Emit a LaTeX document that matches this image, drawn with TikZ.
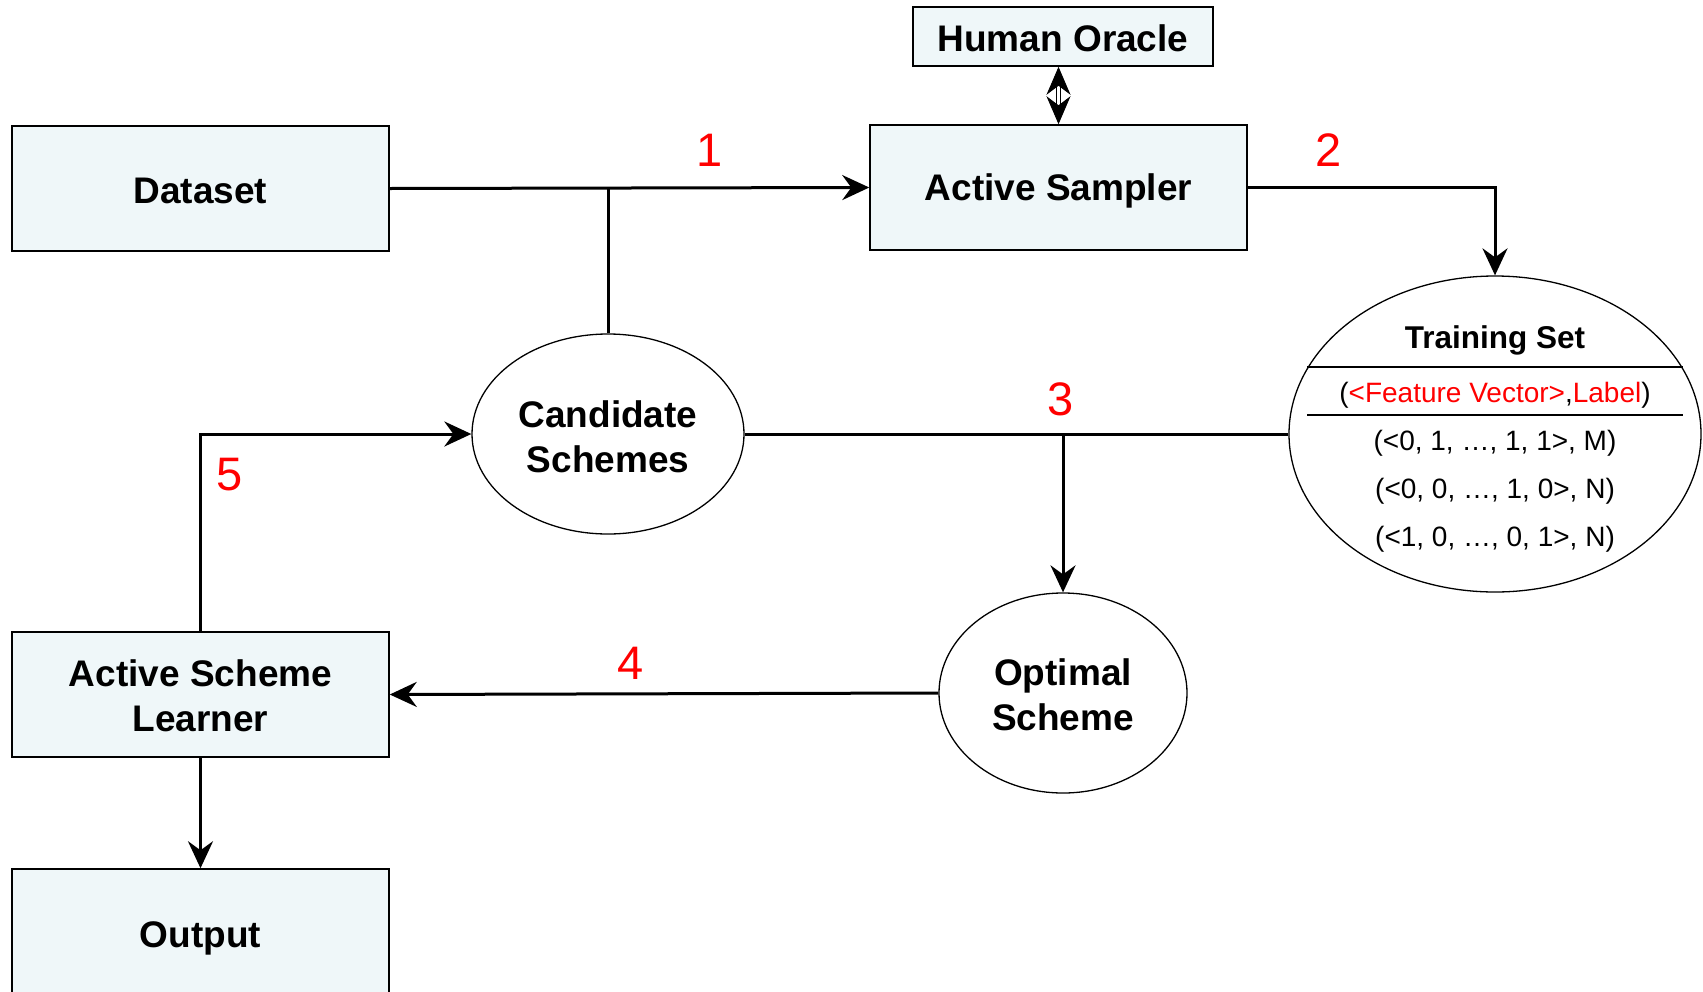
\documentclass[tikz,border=0pt]{standalone}
\usepackage{fontspec}
\setmainfont{Liberation Sans}
\usetikzlibrary{arrows.meta,shapes.geometric}
\definecolor{boxfill}{RGB}{239,247,249}
\definecolor{numred}{RGB}{255,0,0}
\begin{document}
\begin{tikzpicture}[x=1pt,y=-1pt,
  blk/.style={draw, line width=1.5pt, fill=boxfill, minimum width=377pt, minimum height=125pt, inner sep=0pt},
  ell/.style={draw, ellipse, line width=1.3pt, inner sep=0pt},
  txt/.style={font=\fontsize{37}{45}\selectfont\bfseries, align=center, inner sep=0pt},
  plainline/.style={line width=3pt},
  conn/.style={line width=3pt, -{Stealth[length=27pt,width=25pt,inset=9pt]}},
  dbl/.style={double, double distance=2.5pt, line width=1pt,
    {Stealth[length=28pt,width=24pt,inset=9pt]}-{Stealth[length=28pt,width=24pt,inset=9pt]}},
  num/.style={text=numred, font=\fontsize{47}{47}\selectfont, inner sep=0pt},
  tsrow/.style={font=\fontsize{28}{28}\selectfont, inner sep=0pt}]
\useasboundingbox (0,0) rectangle (1703,991);

\node[blk, label={[txt, yshift=-2pt]center:Dataset}] (ds) at (200.5,188.5) {};
\node[blk, minimum width=300pt, minimum height=59pt, label={[txt, yshift=-2pt]center:Human Oracle}] (ho) at (1063,36.5) {};
\node[blk, label={[txt, yshift=-3pt]center:Active Sampler}] (as) at (1058.5,187.5) {};
\node[blk, label={[txt, yshift=-1pt]center:Active Scheme\\Learner}] (asl) at (200.5,694.5) {};
\node[blk, label={[txt, yshift=-7pt]center:Output}] (out) at (200.5,931.5) {};

\node[ell, minimum width=272pt, minimum height=200pt, label={[txt, yshift=-3pt]center:Candidate\\Schemes}] (cs) at (608,434) {};
\node[ell, minimum width=248pt, minimum height=200pt, label={[txt, yshift=-2pt]center:Optimal\\Scheme}] (os) at (1063,693) {};
\node[ell, minimum width=412pt, minimum height=316pt] (ts) at (1495,434) {};

\node[font=\fontsize{31.5}{31.5}\selectfont\bfseries, inner sep=0pt] (tstitle) at (1495,340) {Training Set};
\coordinate (l1a) at (1307,367);
\coordinate (l1b) at (1683,367);
\coordinate (l2a) at (1307,415);
\coordinate (l2b) at (1683,415);
\draw[line width=2pt] (l1a) -- (l1b);
\draw[line width=2pt] (l2a) -- (l2b);
\node[tsrow] (tshead) at (1495,395) {(\textcolor{numred}{<Feature Vector>},\textcolor{numred}{Label})};
\node[tsrow] (r1) at (1495,443.5) {(<0, 1, …, 1, 1>, M)};
\node[tsrow] (r2) at (1495,491.5) {(<0, 0, …, 1, 0>, N)};
\node[tsrow] (r3) at (1495,539) {(<1, 0, …, 0, 1>, N)};

% connectors
\draw[conn] (ds.east) -- (as.west);
\draw[plainline] (cs.north) -- (cs.north |- ds.east);
\draw[dbl] (as.north |- ho.south) -- (as.north);
\draw[conn] (as.east) -| (ts.north);
\draw[plainline] (cs.east) -- (ts.west);
\coordinate (j3) at (os.north |- cs.east);
\draw[conn] (j3) -- (os.north);
\draw[conn] (os.west) -- (asl.east);
\draw[conn] (asl.north) |- (cs.west);
\draw[conn] (asl.south) -- (out.north);

% labels
\node[num] (n1) at (710,150) {1};
\node[num] (n2) at (1329,150) {2};
\node[num] (n3) at (1061,399) {3};
\node[num] (n4) at (631,663) {4};
\node[num] (n5) at (230,475) {5};
\end{tikzpicture}
\end{document}
